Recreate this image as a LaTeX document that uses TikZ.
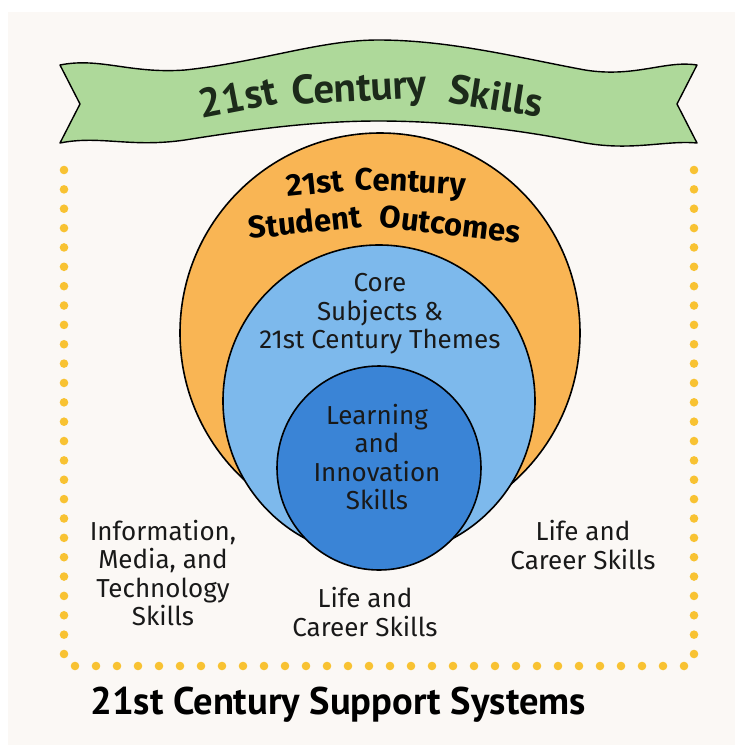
\documentclass[tikz,border=0pt]{standalone}
\usepackage{fontspec}
\setmainfont{PT Sans}
\newfontfamily\fira{Fira Sans}
\definecolor{bgc}{HTML}{FBF8F5}
\definecolor{ribbon}{HTML}{AED99A}
\definecolor{orangec}{HTML}{F9B554}
\definecolor{lightb}{HTML}{7DB9EC}
\definecolor{darkb}{HTML}{3A84D6}
\definecolor{dotc}{HTML}{F8C232}
\definecolor{ribtext}{HTML}{1C2A1A}
\begin{document}
\begin{tikzpicture}[x=1pt,y=-1pt,
  outline/.style={draw=black, line width=1.6pt},
  bannerword/.style={anchor=base, inner sep=0pt, text=ribtext, font=\bfseries\fontsize{41}{43}\selectfont},
  outword/.style={anchor=base, inner sep=0pt, text=black, font=\fira\bfseries\fontsize{31}{33}\selectfont},
  lbl/.style={align=center, font=\fira\fontsize{26}{28.5}\selectfont, text=black!90, inner sep=0pt},
  dotmark/.style={fill=dotc}]
\useasboundingbox (0,0) rectangle (735,745);
\fill[white] (0,0) rectangle (735,745);
\fill[bgc] (8,12) rectangle (735,745);
% dotted frame
\foreach \i in {0,...,25} {
  \fill[dotmark] (64,170+\i*19.36) circle (4.3);
  \fill[dotmark] (694,170+\i*19.36) circle (4.3);
}
\foreach \i in {0,...,29} \fill[dotmark] (75+\i*21,666) circle (4.3);
% circles
\draw[outline, fill=orangec] (380,333) circle (200);
\draw[outline, fill=lightb] (379,401) circle (156);
\draw[outline, fill=darkb] (379,468) circle (102);
% banner
\draw[outline, line width=1.4pt, fill=ribbon, line join=round]
 (60,65) .. controls (100,57) and (130,74) .. (185,70)
 .. controls (260,62) and (320,40) .. (378,40)
 .. controls (450,40) and (520,58) .. (585,70)
 .. controls (635,78) and (665,60) .. (697,65)
 -- (677,104) -- (697,143)
 .. controls (665,140) and (630,152) .. (580,142)
 .. controls (520,130) and (450,121) .. (378,121)
 .. controls (320,121) and (260,128) .. (185,140)
 .. controls (130,148) and (100,135) .. (60,143)
 -- (80,104) -- cycle;
\node[bannerword, rotate=11] (b1) at (240,111) {21st};
\node[bannerword, rotate=3] (b2) at (360,101) {Century};
\node[bannerword, rotate=-9] (b3) at (494,110) {Skills};
% outcomes title
\node[outword, rotate=6] (o1) at (316,194) {21st};
\node[outword, rotate=-3] (o2) at (410,192) {Century};
\node[outword, rotate=6] (o3) at (306,233) {Student};
\node[outword, rotate=-7] (o4) at (449,235) {Outcomes};
% labels
\node[lbl] (core) at (380,314) {Core\\Subjects \&\\21st Century Themes};
\node[lbl] (learn) at (377,457) {Learning\\and\\Innovation\\Skills};
\node[lbl] (imt) at (163,573) {Information,\\Media, and\\Technology\\Skills};
\node[lbl] (lcb) at (365,612) {Life and\\Career Skills};
\node[lbl] (lcr) at (583,545) {Life and\\Career Skills};
\node[anchor=west, inner sep=0pt, font=\bfseries\fontsize{38.5}{40}\selectfont] (support) at (90,705) {21st Century Support Systems};
\end{tikzpicture}
\end{document}
